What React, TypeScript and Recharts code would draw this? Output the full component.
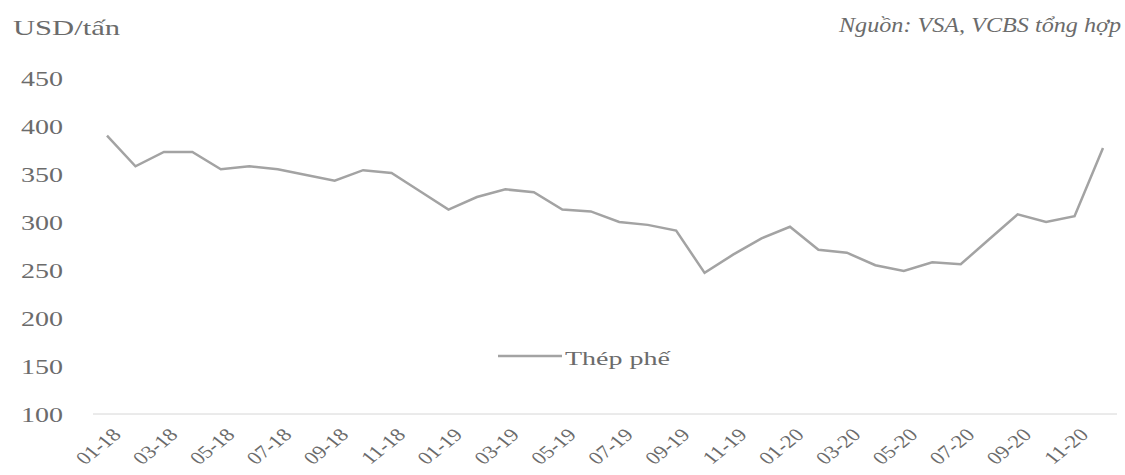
import React from "react";
import { LineChart, Line, XAxis, YAxis } from "recharts";

// Giá thép phế nhập khẩu theo tháng, 01/2018 - 12/2020 (USD/tấn)
const months = [
  "01-18", "02-18", "03-18", "04-18", "05-18", "06-18",
  "07-18", "08-18", "09-18", "10-18", "11-18", "12-18",
  "01-19", "02-19", "03-19", "04-19", "05-19", "06-19",
  "07-19", "08-19", "09-19", "10-19", "11-19", "12-19",
  "01-20", "02-20", "03-20", "04-20", "05-20", "06-20",
  "07-20", "08-20", "09-20", "10-20", "11-20", "12-20",
];

const scrapPrice = [
  390, 358, 373, 373, 355, 358,
  355, 349, 343, 354, 351, 332,
  313, 326, 334, 331, 313, 311,
  300, 297, 291, 247, 266, 283,
  295, 271, 268, 255, 249, 258,
  256, 282, 308, 300, 306, 377,
];

const yTicks = [100, 150, 200, 250, 300, 350, 400, 450];

const data = months.map((m, i) => ({ month: m, price: scrapPrice[i] }));

const FONT = "'Liberation Serif', 'Times New Roman', serif";
const TEXT = "#6b6b6b";
const LINE = "#a3a3a3";

const YTick = (props: any) => {
  const { x, y, payload } = props;
  return (
    <text
      x={x - 30}
      y={y}
      dy="0.36em"
      textAnchor="end"
      fontFamily={FONT}
      fontSize={21}
      fill={TEXT}
      textLength={42}
      lengthAdjust="spacingAndGlyphs"
    >
      {payload.value}
    </text>
  );
};

// nhãn trục hoành xoay nghiêng, giãn ngang
const XTick = (props: any) => {
  const { x, y, payload } = props;
  return (
    <g transform={`translate(${x + 4},${y + 13})`}>
      <text
        transform="scale(1.25,1) rotate(-45)"
        textAnchor="end"
        dy="0.7em"
        fontFamily={FONT}
        fontSize={18}
        fill={TEXT}
      >
        {payload.value}
      </text>
    </g>
  );
};

export default function App() {
  return (
    <div style={{ position: "fixed", left: 0, top: 0, width: 1125, height: 475, background: "#fff" }}>
      <LineChart
        width={1125}
        height={475}
        data={data}
        margin={{ top: 78, right: 8, bottom: 0, left: 0 }}
      >
        <XAxis
          dataKey="month"
          interval={1}
          padding={{ left: 14, right: 14 }}
          axisLine={{ stroke: "#d6d6d6", strokeWidth: 1 }}
          tickLine={false}
          tickSize={0}
          tickMargin={0}
          height={61}
          tick={<XTick />}
        />
        <YAxis
          domain={[100, 450]}
          ticks={yTicks}
          axisLine={false}
          tickLine={false}
          tickSize={0}
          tickMargin={0}
          width={93}
          tick={<YTick />}
        />
        <Line
          type="linear"
          dataKey="price"
          name="Thép phế"
          stroke={LINE}
          strokeWidth={2.5}
          dot={false}
          isAnimationActive={false}
        />
      </LineChart>
      <svg
        width={1125}
        height={475}
        style={{ position: "absolute", left: 0, top: 0, pointerEvents: "none" }}
      >
        <text
          x={13}
          y={35}
          fontFamily={FONT}
          fontSize={21}
          fill={TEXT}
          textLength={107}
          lengthAdjust="spacingAndGlyphs"
        >
          USD/tấn
        </text>
        <text
          x={1121}
          y={32}
          textAnchor="end"
          fontFamily={FONT}
          fontStyle="italic"
          fontSize={20}
          fill={TEXT}
          textLength={282}
          lengthAdjust="spacingAndGlyphs"
        >
          Nguồn: VSA, VCBS tổng hợp
        </text>
        {/* chú thích */}
        <line x1={498} y1={356} x2={562} y2={356} stroke={LINE} strokeWidth={2.5} />
        <text
          x={565}
          y={365}
          fontFamily={FONT}
          fontSize={18}
          fill={TEXT}
          textLength={105}
          lengthAdjust="spacingAndGlyphs"
        >
          Thép phế
        </text>
      </svg>
    </div>
  );
}
